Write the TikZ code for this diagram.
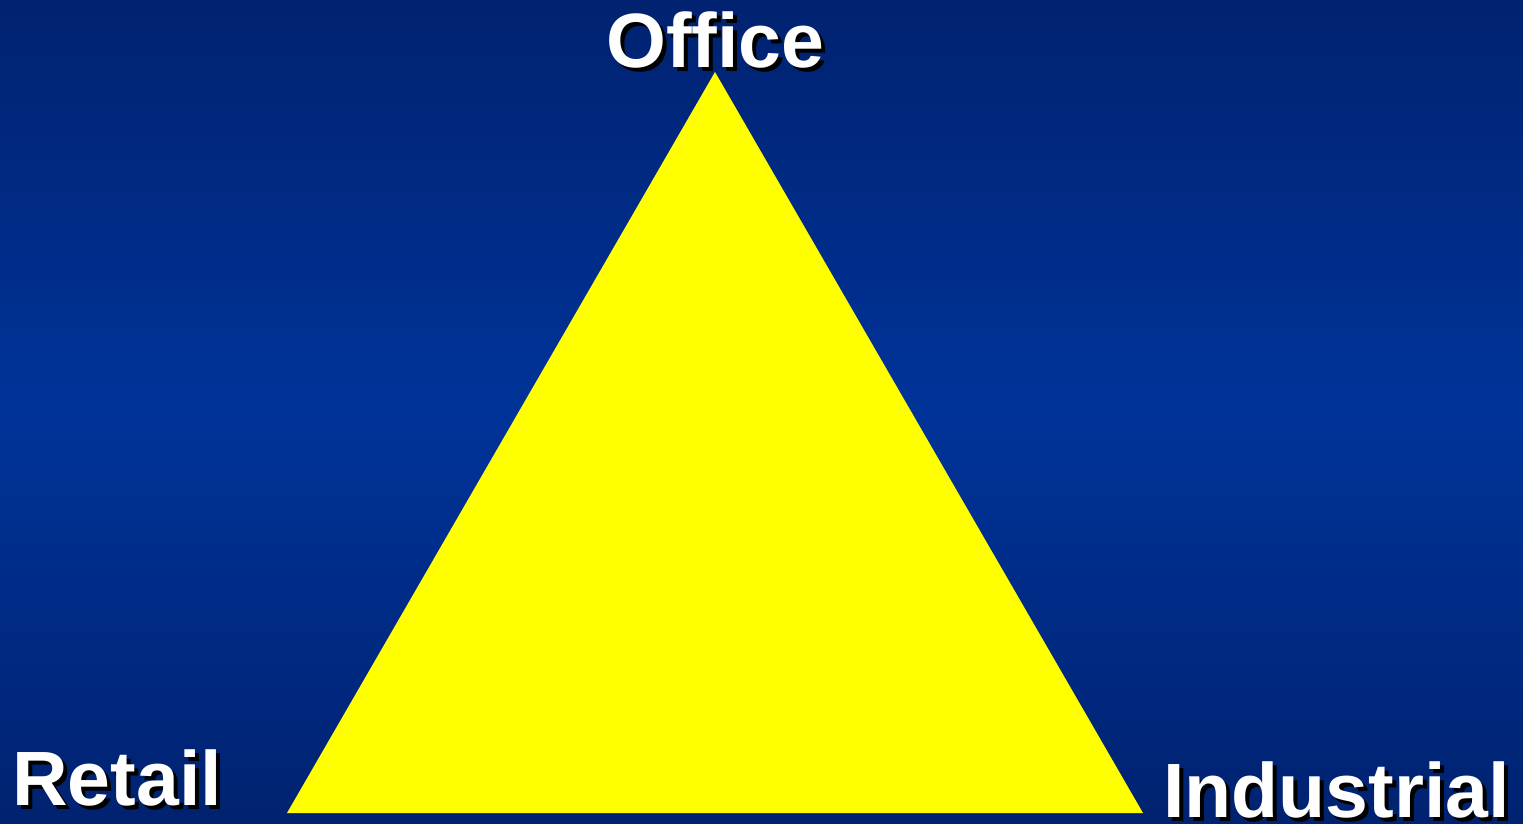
\documentclass[tikz,border=0pt]{standalone}
\usepackage{fontspec}
\setmainfont{Liberation Sans}
\definecolor{bgdark}{RGB}{0,34,112}
\definecolor{bgmid}{RGB}{0,51,153}
\definecolor{tri}{RGB}{255,255,0}
\begin{document}
\begin{tikzpicture}[x=1pt,y=-1pt,
  lbl/.style={inner sep=0pt,anchor=base west,font=\fontsize{77}{77}\selectfont\bfseries},
  shadowlbl/.style={lbl,text=black},
  mainlbl/.style={lbl,text=white}]
\useasboundingbox (0,0) rectangle (1523,823);
\shade[top color=bgdark,bottom color=bgdark,middle color=bgmid] (0,0) rectangle (1523,823);
\coordinate (top) at (715,72);
\coordinate (bl) at (287,813);
\coordinate (br) at (1143,813);
\fill[tri] (top) -- (bl) -- (br) -- cycle;
% labels with drop shadows
\node[shadowlbl] at (610,71) {Office};
\node[mainlbl] (office) at (606,67) {Office};
\node[shadowlbl] at (16,809) {Retail};
\node[mainlbl] (retail) at (12,805) {Retail};
\node[shadowlbl] at (1167,821) {Industrial};
\node[mainlbl] (industrial) at (1163,817) {Industrial};
\end{tikzpicture}
\end{document}
